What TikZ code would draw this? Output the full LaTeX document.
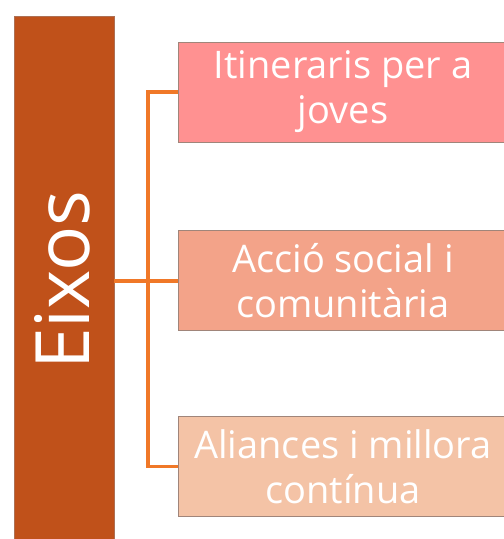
\documentclass[tikz,border=0pt]{standalone}
\usepackage{fontspec}
\setmainfont{Open Sans}
\usepackage{xcolor}
\usepackage{tikz}
\usetikzlibrary{arrows.meta,positioning,calc}

\definecolor{barbrown}{HTML}{C0511A}
\definecolor{linkorange}{HTML}{F07828}
\definecolor{boxpink}{HTML}{FF9191}
\definecolor{boxsalmon}{HTML}{F3A389}
\definecolor{boxpeach}{HTML}{F4C3A6}
\definecolor{boxedge}{HTML}{A0857A}

\begin{document}
\begin{tikzpicture}[x=1pt,y=-1pt,node distance=88pt]
  \tikzstyle{axis}=[draw=boxedge!60!barbrown,line width=0.8pt,fill=barbrown,minimum width=100pt,minimum height=528pt,inner sep=0pt]
  \tikzstyle{topic}=[draw=boxedge,line width=0.8pt,align=center,minimum width=330pt,minimum height=100pt,inner sep=0pt,text=white,font=\fontsize{38}{45}\selectfont]
  \tikzstyle{link}=[draw=linkorange,line width=3.6pt]
  \useasboundingbox (0,0) rectangle (504,539);
  \clip (0,0) rectangle (504,539);
  \node[axis] (bar) at (64,280) {};
  \node[rotate=90,text=white,font=\fontsize{75}{75}\selectfont] (title) at (62,280) {Eixos};
  \node[topic,fill=boxpink] (box1) at (343,92) {Itineraris per a\\joves};
  \node[topic,fill=boxsalmon,below=of box1] (box2) {Acció social i\\comunitària};
  \node[topic,fill=boxpeach,below=85pt of box2] (box3) {Aliances i millora\\contínua};
  \coordinate (fork) at (148,281);
  % branches from the bar
  \draw[link] (bar.east |- box2.west) -- (box2.west);
  \draw[link] (box1.west) -| (fork) |- (box3.west);
\end{tikzpicture}
\end{document}
